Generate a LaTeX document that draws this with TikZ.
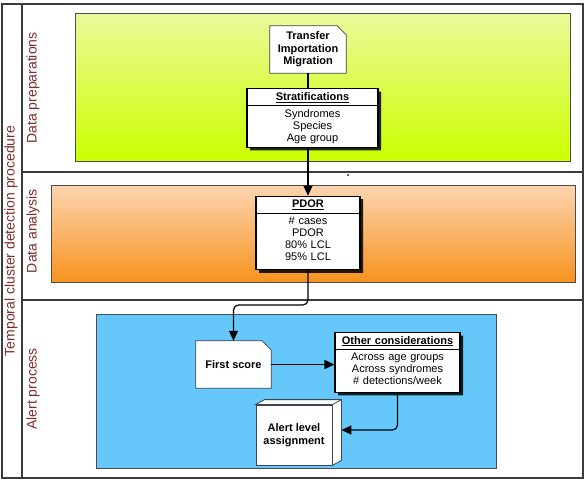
\documentclass[tikz,border=0pt]{standalone}
\usepackage{fontspec}
\setmainfont{Liberation Sans}
\usepackage{tikz}
\usetikzlibrary{calc,shapes.multipart,shadows,arrows.meta}

\pgfdeclarelayer{lanes}
\pgfdeclarelayer{shapes}
\pgfsetlayers{lanes,shapes,main}

\definecolor{lanered}{RGB}{125,45,45}
\definecolor{framegray}{RGB}{60,60,60}
\definecolor{limetop}{RGB}{234,249,154}
\definecolor{limebot}{RGB}{204,255,0}
\definecolor{peachtop}{RGB}{253,213,177}
\definecolor{peachbot}{RGB}{247,147,30}
\definecolor{skyfill}{RGB}{102,200,250}
\definecolor{noteline}{RGB}{60,70,85}

\tikzset{
  lanebox/.style={draw=gray!60!black,line width=0.6pt},
  lanelabel/.style={rotate=90,text=lanered,font=\fontsize{14}{16}\selectfont},
  classbox/.style={rectangle split,rectangle split parts=2,draw,fill=white,%
    line width=1.1pt,inner xsep=2pt,inner ysep=3pt,align=center,%
    font=\fontsize{11}{12}\selectfont,%
    drop shadow={shadow xshift=3pt,shadow yshift=-3pt,fill=black,opacity=0.85}},
  notebox/.style={inner sep=0pt,align=center,font=\bfseries\fontsize{11}{12.5}\selectfont},
  notepath/.style={fill=white,draw=noteline,line width=0.8pt},
  conn/.style={line width=1.2pt,rounded corners=5pt,-{Triangle[length=10pt,width=9pt]}},
}

\begin{document}
\begin{tikzpicture}[x=1pt,y=-1pt]
  \useasboundingbox (0,0) rectangle (585,493);
  % lanes
  \begin{pgfonlayer}{lanes}
    \draw[lanebox,top color=limetop,bottom color=limebot] (75,13) rectangle (570,161);
    \draw[lanebox,top color=peachtop,bottom color=peachbot] (51,185) rectangle (575,282);
    \draw[lanebox,fill=skyfill] (96,314) rectangle (496,468);
    \draw[framegray,line width=1.3pt] (2,4) rectangle (583,478);
    \draw[framegray,line width=1.3pt] (22,4) -- (22,478);
    \draw[framegray,line width=1.3pt] (22,172) -- (583,172);
    \draw[framegray,line width=1.3pt] (22,300) -- (583,300);
  \end{pgfonlayer}
  \node[lanelabel] (proc) at (11,241) {Temporal cluster detection procedure};
  \node[lanelabel] (prep) at (33,88) {Data preparations};
  \node[lanelabel] (anal) at (33,231) {Data analysis};
  \node[lanelabel] (alrt) at (33,389) {Alert process};

  % steps
  \node[notebox,minimum width=76,minimum height=47] (trans) at (308,49.5) %
    {Transfer\\Importation\\Migration};
  \node[classbox,text width=127] (strat) at (312.5,118) %
    {\textbf{\underline{Stratifications}}\nodepart{second}Syndromes\\Species\\Age group};
  \node[classbox,text width=100] (pdor) at (308,233) %
    {\textbf{\underline{PDOR}}\nodepart{second}\# cases\\PDOR\\80\% LCL\\95\% LCL\rule[-6pt]{0pt}{6pt}};
  \node[notebox,minimum width=75,minimum height=47] (first) at (233.5,364.5) {First score};
  \node[classbox,text width=121] (other) at (397.5,362.5) %
    {\textbf{\underline{Other considerations}}\nodepart{second}Across age groups\\%
      Across syndromes\\\# detections/week\rule[-4pt]{0pt}{4pt}};
  \node[notebox,draw=noteline,fill=white,line width=0.8pt,%
    minimum width=76,minimum height=60] (alert) at (294,435) {Alert level\\assignment};
  \fill (348,175) circle (1);

  % note corners and box faces
  \begin{pgfonlayer}{shapes}
    \foreach \n in {trans,first}{
      \draw[notepath] (\n.north west) -- ($(\n.north east)+(-9,0)$) -- %
        ($(\n.north east)+(0,9)$) -- (\n.south east) -- (\n.south west) -- cycle;
    }
  \end{pgfonlayer}
  \draw[notepath] (alert.north west) -- ++(9,-5) -- ($(alert.north east)+(9,-5)$) -- %
    ($(alert.south east)+(9,-5)$) -- (alert.south east) -- (alert.north east) -- cycle;
  \draw[noteline,line width=0.8pt] (alert.north east) -- ++(9,-5);

  % connectors
  \coordinate (turn) at (0,305);
  \coordinate (alertside) at ($(alert.east)+(9,-5)$);
  \draw[line width=1.2pt] (trans.south) -- (trans.south |- strat.north);
  \draw[conn] (strat.south -| pdor.north) -- (pdor.north);
  \draw[conn] (pdor.south) -- (pdor.south |- turn) -| (first.north);
  \draw[conn] (first.east) -- (first.east -| other.west);
  \draw[conn] (other.south) |- (alertside);
\end{tikzpicture}
\end{document}
